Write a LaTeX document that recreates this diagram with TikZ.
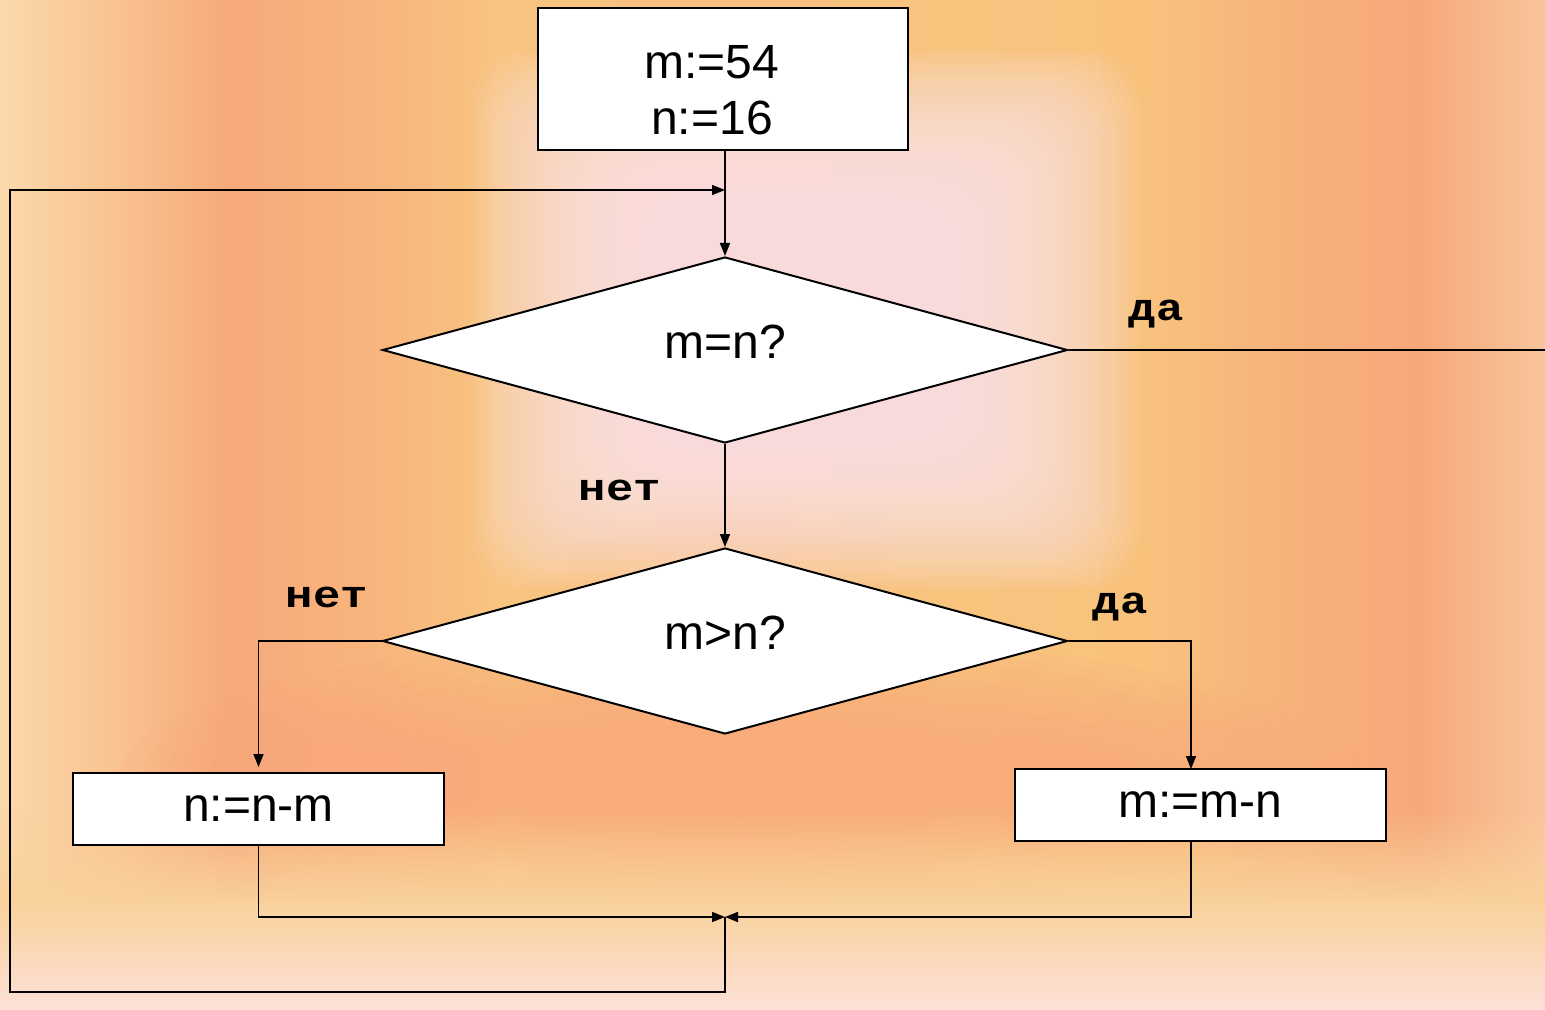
\documentclass[tikz,border=0pt]{standalone}
\usepackage{fontspec}
\setmainfont{Liberation Sans}
\newfontfamily\labfont[FakeStretch=1.2]{Liberation Mono}
\usetikzlibrary{shapes.geometric,arrows.meta,fadings}

\definecolor{b0}{HTML}{FBD9AC}
\definecolor{b1}{HTML}{F9C290}
\definecolor{b2}{HTML}{F7A97A}
\definecolor{b3}{HTML}{F8B57D}
\definecolor{b4}{HTML}{F8C47F}
\definecolor{b5}{HTML}{F9BF80}
\definecolor{b6}{HTML}{F8C47E}
\definecolor{b7}{HTML}{F8C27D}
\definecolor{b8}{HTML}{F7B07A}
\definecolor{b9}{HTML}{F7A87A}
\definecolor{b10}{HTML}{F9C59C}
\definecolor{glow}{HTML}{FCE8EE}
\definecolor{salmon}{HTML}{F9A87A}
\definecolor{yellowish}{HTML}{F9D29C}
\definecolor{pinkbot}{HTML}{FDE0D8}

\begin{document}
\begin{tikzpicture}[x=0.5pt,y=-0.5pt,
  box/.style={draw=black, line width=1pt, fill=white, inner sep=0pt},
  dia/.style={diamond, draw=black, line width=1pt, fill=white, inner sep=0pt,
              minimum width=342.5pt, minimum height=93pt, text depth=8pt},
  ln/.style={line width=0.8pt},
  arr/.style={ln, -{Triangle[length=6.5pt,width=5pt]}},
  txt/.style={font=\fontsize{24}{28}\selectfont},
  lab/.style={font=\labfont\bfseries\fontsize{19}{22}\selectfont, inner sep=0pt}]
\useasboundingbox (0,0) rectangle (1545,1010);

% ---- background ----
\foreach \xa/\xb/\ca/\cb in {0/120/b0/b1, 120/230/b1/b2, 230/380/b2/b3, 380/500/b3/b4,
  500/725/b4/b5, 725/950/b5/b6, 950/1150/b6/b7, 1150/1300/b7/b8, 1300/1420/b8/b9, 1420/1545/b9/b10}
  \fill[left color=\ca, right color=\cb] (\xa-1,0) rectangle (\xb+1,1010);
% salmon band under the second decision
\foreach \i in {0,...,11}
  \fill[salmon, opacity=0.1] (740,775) ellipse [x radius={620-\i*22}, y radius={140-\i*9}];
% central glow
\foreach \i in {0,...,29}
  \fill[glow, opacity=0.07, rounded corners=30pt]
    (470+\i*6,50+\i*5) rectangle (1140-\i*6,590-\i*5);
% bottom fades
\fill[yellowish, path fading=north] (0,810) rectangle (1545,905);
\fill[top color=yellowish, bottom color=pinkbot] (0,904) rectangle (1545,1010);

% ---- shapes ----
\node[box, minimum width=185pt, minimum height=71pt] (start) at (723,79) {};
\node[txt, align=center, inner sep=0pt] (starttxt) at (712,90) {m:=54\\n:=16};
\node[dia, txt] (d1) at (725,350) {m=n?};
\node[dia, txt] (d2) at (725,641) {m>n?};
\node[box, txt, minimum width=185.5pt, minimum height=36pt] (nbox) at (258.5,809) {n:=n-m};
\node[box, txt, minimum width=185.5pt, minimum height=36pt] (mbox) at (1200.5,805) {m:=m-n};

% ---- coordinates ----
\coordinate (join) at (725,190);
\coordinate (merge) at (725,917);
\coordinate (lb) at (10,992);
\coordinate (lt) at (10,190);
\coordinate (yesend) at (1545,349);
\coordinate (ra) at (1191,769);
\coordinate (rb) at (1191,841);

% ---- connectors ----
\draw[arr] (start.south -| d1.north) -- (d1.north);
\draw[arr] (merge) |- (lb) -- (lt) -- (join);
\draw[ln] (d1.east) -- (d1.east -| yesend);
\draw[arr] (d1.south) -- (d2.north);
\draw[arr] (d2.west) -| ([yshift=2.5pt]nbox.north);
\draw[arr] (d2.east) -| (ra);
\draw[arr] (nbox.south) |- (merge);
\draw[arr] (rb) |- (merge);

% ---- labels ----
\node[lab] (l1) at (1156,314) {да};
\node[lab] (l2) at (620,490) {нет};
\node[lab] (l3) at (327,597) {нет};
\node[lab] (l4) at (1120,607) {да};
\end{tikzpicture}
\end{document}
